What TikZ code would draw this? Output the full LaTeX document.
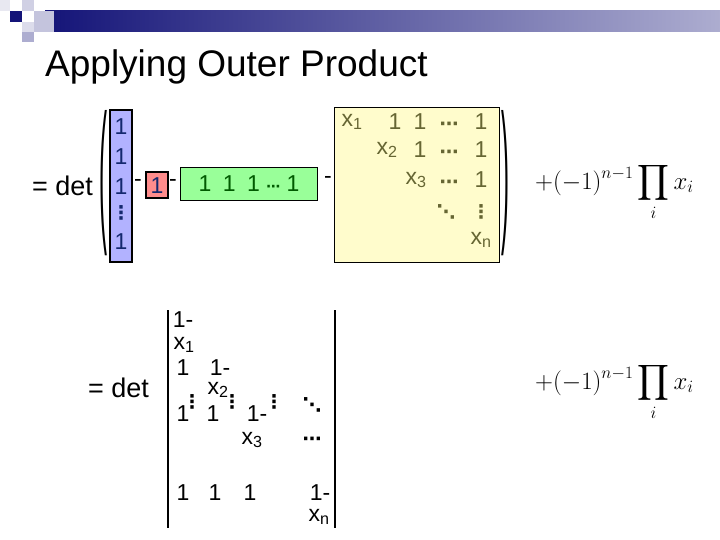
\documentclass[tikz,border=0pt]{standalone}
\usepackage{fontspec}
\setmainfont{Liberation Sans}
\newfontfamily\dejavu{DejaVu Sans}
\usepackage{amsmath}
\begin{document}
\begin{tikzpicture}[x=1pt,y=-1pt,
  ent/.style={font=\fontsize{23}{23}\selectfont,inner sep=0pt},
  dt/.style={font=\fontsize{19}{19}\selectfont\bfseries,inner sep=0pt},
  formula/.style={font=\fontsize{27}{27}\selectfont,inner sep=0pt,anchor=west}]
\useasboundingbox (0,0) rectangle (720,540);
\definecolor{navy}{RGB}{20,20,120}
\definecolor{olive}{RGB}{102,102,51}
\definecolor{dkgreen}{RGB}{0,90,0}
\definecolor{dkblue}{RGB}{20,40,110}
% header decoration
\shade[left color=navy,right color=navy!35] (45,11) rectangle (720,32);
\fill[navy!20] (22,0) rectangle (34,11);
\fill[navy!25] (34,11) rectangle (54,32);
\fill[navy] (10,11) rectangle (22,22);
\fill[navy!15] (22,22) rectangle (34,32);
\fill[navy!35] (22,32) rectangle (34,42);
\fill[navy!10] (0,0) rectangle (10,11);
\node[anchor=base west,font=\fontsize{37}{37}\selectfont,inner sep=0pt] (title) at (45,77) {Applying Outer Product};
% upper row
\node[anchor=base west,font=\fontsize{27}{27}\selectfont,inner sep=0pt] (det1) at (32,196) {= det};
\node[font=\fontsize{24}{24}\selectfont,inner sep=0pt] (lp) at (103,183) {\scalebox{1}[6.5]{(}};
\node[draw,line width=1.5pt,fill=blue!30!white,minimum width=22pt,minimum height=152pt,inner sep=0pt] (blue) at (121,186) {};
\foreach \y in {127,157,187,242} \node[ent,text=dkblue] at (121,\y) {1};
\node[dt,text=dkblue] at (121,213) {\dejavu ⋮};
\node[ent] (m1) at (138,183) {-};
\node[draw,line width=1.5pt,fill=red!45!white,minimum width=22pt,minimum height=26pt,inner sep=0pt] (red) at (157,185) {};
\node[ent,text=dkblue] at (157,186) {1};
\node[ent] (m2) at (173,183) {-};
\node[draw,line width=1.5pt,fill=green!40!white,minimum width=137pt,minimum height=33pt,inner sep=0pt] (green) at (249,184) {};
\node[ent,text=dkgreen] at (249,184) {1\enspace 1\enspace 1 {\dejavu\fontsize{14}{14}\selectfont\bfseries ⋯} 1};
\node[ent] (m3) at (328,180) {-};
\node[draw,line width=1.5pt,fill=yellow!20!white,minimum width=165pt,minimum height=155pt,inner sep=0pt] (yel) at (417,185) {};
\foreach \x/\y/\t in {352/122/x\textsubscript{1},395/122/1,420/122/1,481/122/1,387/150/x\textsubscript{2},420/150/1,481/150/1,416/180/x\textsubscript{3},481/180/1,481/240/x\textsubscript{n}}
  \node[ent,text=olive] at (\x,\y) {\t};
\foreach \y in {122,150,180} \node[dt,text=olive] at (449,\y+4) {\dejavu ⋯};
\node[dt,text=olive] at (446,212) {\dejavu ⋱};
\node[dt,text=olive] at (481,212) {\dejavu ⋮};
\node[font=\fontsize{24}{24}\selectfont,inner sep=0pt] (rp) at (505,183) {\scalebox{1}[6.5]{)}};
\node[formula] (f1) at (535,192) {$\displaystyle +(-1)^{n-1}\prod_i x_i$};
% lower row
\node[anchor=base west,font=\fontsize{27}{27}\selectfont,inner sep=0pt] (det2) at (88,397) {= det};
\coordinate (la) at (168,310); \coordinate (lb) at (168,528);
\coordinate (ra) at (335,310); \coordinate (rb) at (335,528);
\draw[line width=1.2pt] (la) -- (lb);
\draw[line width=1.2pt] (ra) -- (rb);
\foreach \x/\y/\t in {183/320/1-,184/345/x\textsubscript{1},183/368/1,220/368/1-,218/390/x\textsubscript{2},183/414/1,213/414/1,257/414/1-,252/440/x\textsubscript{3},183/493/1,215/493/1,250/493/1,320/493/1-,319/517/x\textsubscript{n}}
  \node[ent] at (\x,\y) {\t};
\foreach \x in {192,232,274} \node[dt] at (\x,402) {\dejavu ⋮};
\node[dt] at (312,405) {\dejavu ⋱};
\node[dt] at (312,441) {\dejavu ⋯};
\node[formula] (f2) at (535,392) {$\displaystyle +(-1)^{n-1}\prod_i x_i$};
\end{tikzpicture}
\end{document}
